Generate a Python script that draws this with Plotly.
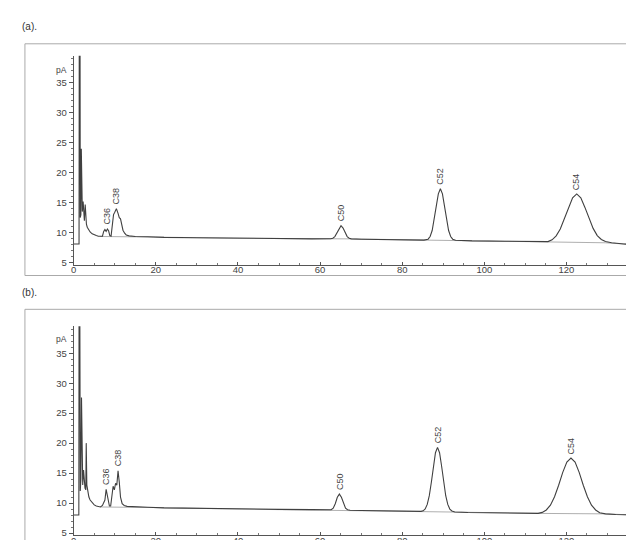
import plotly.graph_objects as go

# ---------------- data ----------------
# Panel (a) chromatogram: retention time (min) and signal (pA)
time_a = [0, 1.3, 1.35, 1.55, 1.6, 1.75, 1.85, 1.95, 2.1, 2.3, 2.45, 2.6, 2.8, 2.95, 3.1, 3.3, 3.6,
          4.0, 4.5, 5.0, 5.5, 6.0, 6.5, 7.0, 7.3, 7.6, 7.9, 8.2, 8.5, 8.8, 9.1, 9.4, 9.7, 10.0,
          10.4, 10.8, 11.1, 11.4, 11.7, 12.0, 12.4, 12.8, 13.5, 15, 18, 22, 30, 40, 50, 58,
          62.6, 63.1, 63.6, 64.1, 64.6, 65.1, 65.6, 66.1, 66.6, 67.1, 67.6, 70, 75, 80, 85.3,
          86.3, 86.8, 87.3, 87.8, 88.3, 88.8, 89.3, 89.8, 90.3, 90.8, 91.3, 91.8, 92.3, 93.0,
          97, 105, 112, 115.5, 116.5, 117.5, 118.5, 119.5, 120.5, 121.5, 122.5, 123.5, 124.5,
          125.5, 126.5, 127.5, 128.5, 129.5, 131, 134, 138.4]
signal_a = [8.1, 8.1, 40, 40, 12.5, 13, 24, 16, 13.5, 15.2, 12.5, 12, 14.7, 12, 11.4, 10.9, 10.5,
            10.1, 9.8, 9.6, 9.5, 9.4, 9.35, 9.4, 10.2, 10.5, 10.2, 10.6, 10.3, 9.5, 9.4, 10.8, 13.0, 13.4,
            14.0, 13.2, 12.5, 12.3, 11.3, 10.4, 9.9, 9.6, 9.45, 9.35, 9.3, 9.2, 9.15, 9.05, 9.0, 8.95,
            8.97, 9.05, 9.33, 9.96, 10.75, 11.15, 10.75, 9.96, 9.33, 9.05, 8.95, 8.9, 8.85, 8.8, 8.75,
            8.9, 9.35, 10.35, 12.1, 14.4, 16.46, 17.3, 16.46, 14.4, 12.1, 10.35, 9.35, 8.9, 8.72,
            8.62, 8.55, 8.45, 8.5, 8.8, 9.45, 10.6, 12.3, 14.2, 15.8, 16.45, 15.8, 14.2,
            12.4, 10.7, 9.5, 8.85, 8.5, 8.3, 8.1, 7.85]
base_time_a = [6.5, 12.5, 20, 40, 62.6, 67.6, 85.3, 93.0, 115.5, 129.5, 138.4]
base_sig_a = [9.35, 9.35, 9.25, 9.05, 8.97, 8.95, 8.75, 8.68, 8.45, 8.3, 7.9]

# Panel (b) chromatogram
time_b = [0, 1.25, 1.3, 1.5, 1.6, 1.75, 1.9, 2.05, 2.2, 2.4, 2.55, 2.75, 2.95, 3.05, 3.2, 3.4, 3.7,
          4.0, 4.5, 5.0, 5.5, 6.0, 6.5, 7.0, 7.3, 7.6, 7.9, 8.1, 8.4, 8.7, 9.0, 9.3, 9.6, 9.9,
          10.2, 10.5, 10.8, 11.1, 11.4, 11.8, 12.3, 13, 15, 18, 22, 30, 40, 50, 58,
          62.2, 62.7, 63.2, 63.7, 64.2, 64.7, 65.2, 65.7, 66.2, 66.7, 67.3, 70, 75, 80,
          84.1, 84.6, 85.1, 85.6, 86.1, 86.6, 87.1, 87.6, 88.1, 88.6, 89.1, 89.6, 90.1, 90.6,
          91.1, 91.6, 92.1, 92.8, 96, 105, 112, 113.1, 114.1, 115.1, 116.1, 117.1, 118.1,
          119.1, 120.1, 121.1, 122.1, 123.1, 124.1, 125.1, 126.1, 127.1, 128.1, 129.5, 132,
          135, 138.4]
signal_b = [8.0, 8.0, 40, 40, 12, 14, 27.6, 16, 13, 15.5, 13, 12.5, 12.2, 20, 13, 11.8, 11,
            10.5, 10.0, 9.7, 9.5, 9.4, 9.35, 9.6, 10.2, 10.5, 12.3, 11.5, 10.0, 9.5, 9.5, 11.2, 12.8, 12.2,
            13.3, 13.0, 15.4, 13.5, 11.0, 9.9, 9.6, 9.45, 9.35, 9.3, 9.2, 9.1, 9.0, 8.95, 8.9,
            8.82, 8.88, 9.16, 9.9, 10.96, 11.5, 10.96, 9.9, 9.16, 8.88, 8.8, 8.75, 8.7, 8.65,
            8.58, 8.62, 8.7, 9.02, 9.78, 11.23, 13.47, 16.15, 18.4, 19.3, 18.4, 16.15, 13.47, 11.23,
            9.78, 9.0, 8.68, 8.5, 8.42, 8.35, 8.25, 8.28, 8.45, 8.85, 9.66, 11.05, 12.98,
            15.12, 16.84, 17.5, 16.84, 15.12, 12.98, 11.05, 9.66, 8.85, 8.4, 8.2, 8.1,
            8.05, 7.95]
base_time_b = [6.5, 12.3, 20, 40, 62.2, 67.3, 84.1, 92.8, 113.1, 129.5, 138.4]
base_sig_b = [9.35, 9.35, 9.25, 9.0, 8.82, 8.8, 8.58, 8.5, 8.28, 8.2, 7.95]

# Peak labels: name, time, apex value
peaks_a = [("C36", 8.0, 10.7), ("C38", 10.4, 14.0), ("C50", 65.1, 11.15),
           ("C52", 89.3, 17.3), ("C54", 122.5, 16.45)]
peaks_b = [("C36", 7.9, 12.3), ("C38", 10.8, 15.4), ("C50", 64.7, 11.5),
           ("C52", 88.6, 19.3), ("C54", 121.1, 17.5)]

y_ticks = [5, 10, 15, 20, 25, 30, 35]
x_ticks = [0, 20, 40, 60, 80, 100, 120]
panel_titles = ["(a).", "(b)."]

# ---------------- figure ----------------
W, H = 634, 540
LINE = "#404040"
TXT = "#444444"
FONT = "Liberation Sans"

fig = go.Figure()
for xa, ya, t, s, bt, bs in [("x", "y", time_a, signal_a, base_time_a, base_sig_a),
                             ("x2", "y2", time_b, signal_b, base_time_b, base_sig_b)]:
    fig.add_trace(go.Scatter(x=bt, y=bs, mode="lines", xaxis=xa, yaxis=ya,
                             line=dict(color="#9a9a9a", width=0.8), hoverinfo="skip"))
    fig.add_trace(go.Scatter(x=t, y=s, mode="lines", xaxis=xa, yaxis=ya,
                             line=dict(color=LINE, width=1.1)))

x_dom = [63 / W, 1.0]
x_rng = [0, 138.4]
ya_dom = [1 - 258.4 / H, 1 - 48 / H]
yb_dom = [1 - 530.4 / H, 1 - 320 / H]
y_rng = [4.6, 39.5]

def xaxis(anchor):
    return dict(domain=x_dom, range=x_rng, anchor=anchor, showline=True, linecolor="#555",
                linewidth=1, showgrid=False, zeroline=False, tickmode="array",
                tickvals=x_ticks, ticks="inside", ticklen=3, tickcolor="#555",
                ticklabelstandoff=-4,
                tickfont=dict(size=9.5, color=TXT, family=FONT),
                minor=dict(dtick=5, tick0=0, ticks="inside", ticklen=2, tickcolor="#777"))

def yaxis(anchor, dom):
    return dict(domain=dom, range=y_rng, anchor=anchor, showline=True, linecolor="#555",
                linewidth=1, showgrid=False, zeroline=False, tickmode="array",
                tickvals=y_ticks, ticks="outside", ticklen=4, tickcolor="#555",
                tickfont=dict(size=9.5, color=TXT, family=FONT),
                minor=dict(dtick=1, tick0=0, ticks="outside", ticklen=2, tickcolor="#777"))

fig.update_layout(
    width=W, height=H, margin=dict(l=0, r=0, t=0, b=0),
    paper_bgcolor="white", plot_bgcolor="white", showlegend=False,
    xaxis=xaxis("y"), yaxis=yaxis("x", ya_dom),
    xaxis2=xaxis("y2"), yaxis2=yaxis("x2", yb_dom),
)

# Panel frames
fig.add_shape(type="rect", xref="paper", yref="paper", x0=14 / W, x1=1.05,
              y0=1 - 269 / H, y1=1 - 36 / H, line=dict(color="#aaaaaa", width=1))
fig.add_shape(type="rect", xref="paper", yref="paper", x0=14 / W, x1=1.05,
              y0=-0.05, y1=1 - 303 / H, line=dict(color="#aaaaaa", width=1))

# Panel titles
for title, ypix in zip(panel_titles, [19, 286]):
    fig.add_annotation(text=title, xref="paper", yref="paper", x=9 / W, y=1 - ypix / H,
                       xanchor="left", yanchor="middle", showarrow=False,
                       font=dict(size=10, color="#333", family=FONT))

# pA units and "min"
for yref, ypos in [("y", 37.2), ("y2", 37.3)]:
    fig.add_annotation(text="pA", xref="paper", yref=yref, x=58 / W, y=ypos,
                       xanchor="right", yanchor="middle", showarrow=False,
                       font=dict(size=8.5, color=TXT, family=FONT))
for ypix in [266, 537]:
    fig.add_annotation(text="min", xref="paper", yref="paper", x=624 / W, y=1 - ypix / H,
                       xanchor="left", yanchor="middle", showarrow=False,
                       font=dict(size=9.5, color=TXT, family=FONT))

# Peak labels
for peaks, xr, yr in [(peaks_a, "x", "y"), (peaks_b, "x2", "y2")]:
    for name, t, v in peaks:
        fig.add_annotation(text=name, x=t, y=v, xref=xr, yref=yr, textangle=-90,
                           xanchor="center", yanchor="bottom", yshift=2, showarrow=False,
                           font=dict(size=9, color=TXT, family=FONT))

fig.write_html("out.html")
